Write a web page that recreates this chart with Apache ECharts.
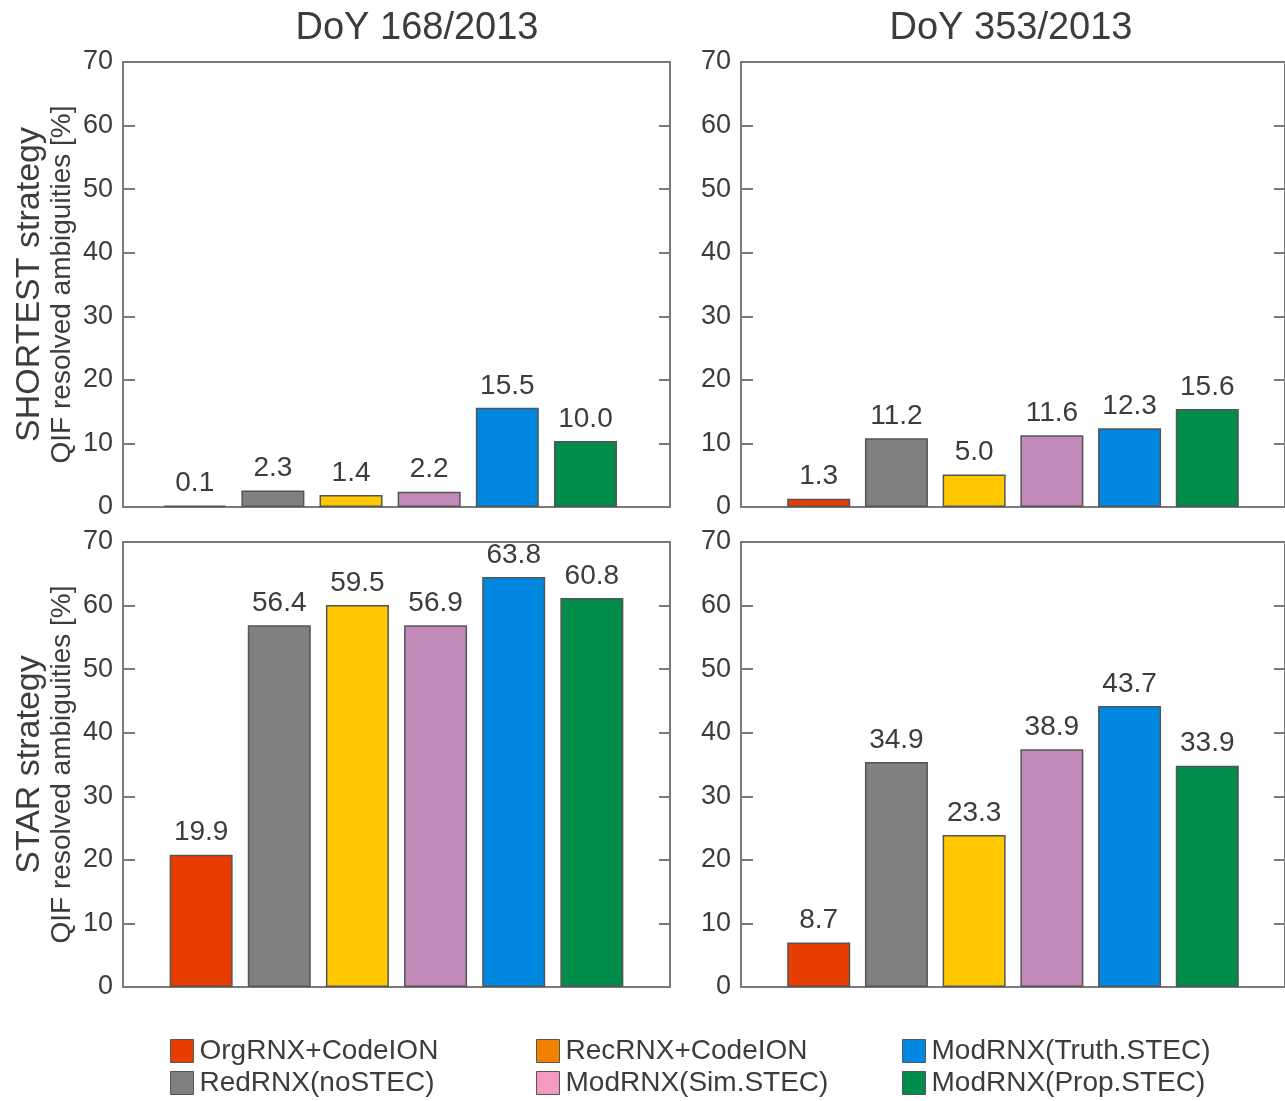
<!DOCTYPE html>
<html>
<head>
<meta charset="utf-8">
<script src="https://cdn.jsdelivr.net/npm/echarts@6/dist/echarts.min.js"></script>
<style>
  html, body { margin: 0; padding: 0; background: #fff; }
  #chart { width: 1285px; height: 1101px; }
</style>
</head>
<body>
<div id="chart"></div>
<script>
// order of bars inside each panel
const methods = ['OrgRNX+CodeION', 'RedRNX(noSTEC)', 'RecRNX+CodeION', 'ModRNX(Sim.STEC)', 'ModRNX(Truth.STEC)', 'ModRNX(Prop.STEC)']
const slots = [1, 2, 3, 4, 5, 6]
const barColors = ['#E83C00', '#808080', '#FFC800', '#C18AB8', '#0088E0', '#008C4B']
const legendColors = ['#E83C00', '#808080', '#F08000', '#F49AC1', '#0088E0', '#008C4B']

// bar heights as drawn
const shortest168 = [0.2, 2.6, 1.9, 2.4, 15.6, 10.4]
const shortest353 = [1.3, 10.8, 5.1, 11.3, 12.4, 15.4]
const star168 = [20.8, 56.9, 60.1, 56.9, 64.5, 61.2]
const star353 = [7.0, 35.4, 23.9, 37.4, 44.2, 34.8]

// printed numbers above the bars
const shortest168Labels = [0.1, 2.3, 1.4, 2.2, 15.5, 10.0]
const shortest353Labels = [1.3, 11.2, 5.0, 11.6, 12.3, 15.6]
const star168Labels = [19.9, 56.4, 59.5, 56.9, 63.8, 60.8]
const star353Labels = [8.7, 34.9, 23.3, 38.9, 43.7, 33.9]

const titles = ['DoY 168/2013', 'DoY 353/2013']
const rowNames = ['SHORTEST strategy', 'STAR strategy']
const yUnit = 'QIF resolved ambiguities [%]'

const FONT = 'Liberation Sans, Arial, sans-serif'
const TXT = '#3c3c3c'
const LINE = '#7a7a7a'

const panels = [
  { left: 123, top: 62, values: shortest168, labels: shortest168Labels, name: rowNames[0] },
  { left: 741, top: 62, values: shortest353, labels: shortest353Labels, name: null },
  { left: 123, top: 542, values: star168, labels: star168Labels, name: rowNames[1] },
  { left: 741, top: 542, values: star353, labels: star353Labels, name: null },
]

const grid = [], xAxis = [], yAxis = [], series = []
panels.forEach((p, i) => {
  grid.push({
    left: p.left, top: p.top, width: 547, height: 445,
    show: true, borderColor: LINE, borderWidth: 2, backgroundColor: 'transparent',
  })
  xAxis.push({
    type: 'value', gridIndex: i, min: 0, max: 7,
    axisLine: { show: false }, axisTick: { show: false },
    axisLabel: { show: false }, splitLine: { show: false },
  })
  // left axis with labels
  yAxis.push({
    type: 'value', gridIndex: i, min: 0, max: 70, interval: 10, position: 'left',
    axisLine: { show: false },
    axisTick: { show: true, inside: true, length: 12, lineStyle: { color: LINE, width: 2 } },
    axisLabel: { fontSize: 27, color: TXT, fontFamily: FONT, margin: 10 },
    splitLine: { show: false },
    name: p.name ? '{a|' + p.name + '}\n{b|' + yUnit + '}' : '',
    nameLocation: 'middle', nameRotate: 90, nameGap: 46,
    nameTextStyle: {
      fontFamily: FONT, color: TXT,
      rich: {
        a: { fontSize: 34, lineHeight: 34, fontFamily: FONT, color: TXT },
        b: { fontSize: 28, lineHeight: 30, fontFamily: FONT, color: TXT },
      },
    },
  })
  // right side, ticks only
  yAxis.push({
    type: 'value', gridIndex: i, min: 0, max: 70, interval: 10, position: 'right',
    axisLine: { show: false },
    axisTick: { show: true, inside: true, length: 11, lineStyle: { color: LINE, width: 2 } },
    axisLabel: { show: false }, splitLine: { show: false },
  })
  series.push({
    type: 'bar',
    xAxisIndex: i, yAxisIndex: i * 2,
    barWidth: 63,
    data: p.values.map((v, k) => ({
      value: [slots[k], v],
      itemStyle: { color: barColors[k] },
    })),
    itemStyle: { borderColor: '#555', borderWidth: 1.5 },
    label: {
      show: true, position: 'top', distance: 8,
      fontSize: 28, color: TXT, fontFamily: FONT,
      formatter: it => p.labels[it.dataIndex].toFixed(1),
    },
    silent: true,
    animation: false,
  })
})

// empty series only feed the legend
methods.forEach((m, k) => {
  series.push({
    type: 'bar', name: m, xAxisIndex: 0, yAxisIndex: 0, data: [],
    itemStyle: { color: legendColors[k], borderColor: '#555', borderWidth: 1 },
  })
})

// one legend box per entry, laid out as 3 columns x 2 rows
const legendCols = [170, 536, 902]
const legendRows = [1037, 1069]
const legendSlots = [[0, 0], [0, 1], [1, 0], [1, 1], [2, 0], [2, 1]]
const legend = methods.map((m, k) => ({
  left: legendCols[legendSlots[k][0]],
  top: legendRows[legendSlots[k][1]],
  padding: 0,
  itemWidth: 23, itemHeight: 23,
  icon: 'rect', selectedMode: false,
  itemStyle: { borderColor: '#555', borderWidth: 1 },
  textStyle: { fontSize: 28, color: TXT, fontFamily: FONT, padding: [0, 0, 0, 1] },
  data: [m],
}))

const option = {
  backgroundColor: '#fff',
  animation: false,
  title: [
    { text: titles[0], left: 412, top: 5, textAlign: 'center',
      textStyle: { fontSize: 38, fontWeight: 'normal', color: TXT, fontFamily: FONT } },
    { text: titles[1], left: 1006, top: 5, textAlign: 'center',
      textStyle: { fontSize: 38, fontWeight: 'normal', color: TXT, fontFamily: FONT } },
  ],
  legend,
  grid,
  xAxis,
  yAxis,
  series,
}

const chartInstance = echarts.init(document.getElementById('chart'))
chartInstance.setOption(option)
</script>
</body>
</html>
